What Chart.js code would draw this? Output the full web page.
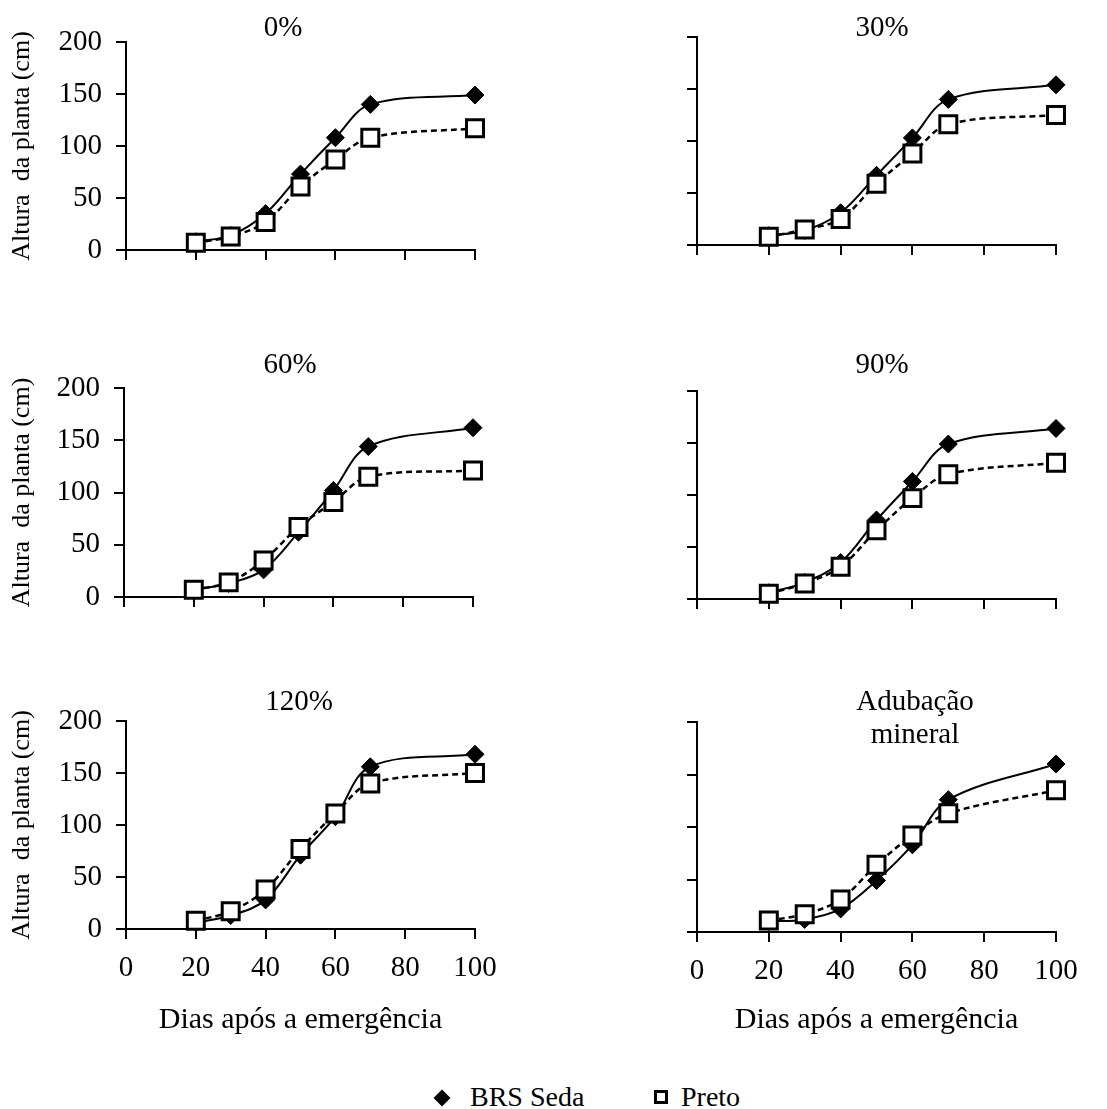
<!DOCTYPE html>
<html>
<head>
<meta charset="utf-8">
<script src="https://cdn.jsdelivr.net/npm/chart.js@4.4.1/dist/chart.umd.min.js"></script>
<style>
  body { margin: 0; background: #fff; width: 1107px; height: 1109px; position: relative; overflow: hidden; font-family: 'Liberation Serif', 'Times New Roman', serif; }
  canvas { position: absolute; }
  .leg { position: absolute; top: 1079px; font-size: 28px; line-height: 36px; color: #000; }
  .mk { position: absolute; box-sizing: border-box; }
</style>
</head>
<body>
<canvas id="g0" width="560" height="300" style="left:0;top:0"></canvas>
<canvas id="g1" width="547" height="300" style="left:560px;top:0"></canvas>
<canvas id="g2" width="560" height="300" style="left:0;top:330px"></canvas>
<canvas id="g3" width="547" height="300" style="left:560px;top:330px"></canvas>
<canvas id="g4" width="560" height="380" style="left:0;top:670px"></canvas>
<canvas id="g5" width="547" height="380" style="left:560px;top:670px"></canvas>

<div class="mk" style="left:436px;top:1092px;width:12px;height:12px;background:#000;transform:rotate(45deg)"></div>
<div class="leg" style="left:470px">BRS Seda</div>
<div class="mk" style="left:654px;top:1090px;width:14px;height:14px;border:3px solid #000;background:#fff"></div>
<div class="leg" style="left:681px">Preto</div>

<script>
// dias apos a emergencia
const dias = [20, 30, 40, 50, 60, 70, 100];
const ticksX = [0, 20, 40, 60, 80, 100];
const ticksY = [0, 50, 100, 150, 200];

const titulos = [['0%'], ['30%'], ['60%'], ['90%'], ['120%'], ['Adubação', 'mineral']];

// altura da planta (cm)
const brs0 = [8, 14, 35, 73, 108, 140, 149];
const preto0 = [7, 13, 27, 61, 87, 108, 117];
const brs30 = [9, 14, 31, 67, 103, 140, 154];
const preto30 = [8, 15, 25, 59, 88, 116, 125];
const brs60 = [7, 13, 26, 62, 102, 144, 162];
const preto60 = [7, 14, 35, 67, 91, 115, 121];
const brs90 = [6, 16, 35, 76, 113, 149, 164];
const preto90 = [5, 15, 31, 66, 97, 120, 131];
const brs120 = [6, 13, 28, 71, 108, 156, 168];
const preto120 = [8, 17, 38, 77, 111, 140, 150];
const brsMin = [10, 12, 22, 49, 83, 126, 160];
const pretoMin = [11, 17, 31, 64, 92, 113, 135];

const seriesBrs = [brs0, brs30, brs60, brs90, brs120, brsMin];
const seriesPreto = [preto0, preto30, preto60, preto90, preto120, pretoMin];

// posicao de cada painel na pagina: canvas e area do grafico
const paineis = [
    { cx: 0,   cy: 0,   w: 560, h: 300, area: [126, 475, 42, 250],  tx: 283, ty: 28 },
    { cx: 560, cy: 0,   w: 547, h: 300, area: [697, 1056, 37, 245], tx: 882, ty: 28 },
    { cx: 0,   cy: 330, w: 560, h: 300, area: [124, 473, 388, 597], tx: 290, ty: 365 },
    { cx: 560, cy: 330, w: 547, h: 300, area: [697, 1056, 391, 599], tx: 882, ty: 365 },
    { cx: 0,   cy: 670, w: 560, h: 380, area: [126, 475, 721, 929], tx: 299, ty: 702 },
    { cx: 560, cy: 670, w: 547, h: 380, area: [697, 1056, 722, 932], tx: 915, ty: 702 }
];

Chart.defaults.font.family = "'Liberation Serif', 'Times New Roman', serif";
Chart.defaults.color = '#000';

const tituloPainel = {
    id: 'tituloPainel',
    afterDraw(chart, args, opts) {
        const ctx = chart.ctx;
        ctx.save();
        ctx.font = "29px 'Liberation Serif'";
        ctx.fillStyle = '#000';
        ctx.textAlign = 'center';
        ctx.textBaseline = 'middle';
        opts.text.forEach((linha, i) => ctx.fillText(linha, opts.x, opts.y + i * 33));
        ctx.restore();
    }
};

paineis.forEach((p, i) => {
    const esquerda = p.cx === 0;
    const embaixo = i >= 4;
    const [aL, aR, aT, aB] = p.area;

    new Chart(document.getElementById('g' + i), {
        type: 'line',
        data: {
            datasets: [{
                label: 'Preto',
                data: dias.map((d, k) => ({ x: d, y: seriesPreto[i][k] })),
                borderColor: '#000',
                borderWidth: 2.5,
                borderDash: [6, 4],
                tension: 0.35,
                pointStyle: 'rect',
                pointRadius: 12,
                pointBackgroundColor: '#fff',
                pointBorderColor: '#000',
                pointBorderWidth: 3,
                clip: false,
                order: 0
            }, {
                label: 'BRS Seda',
                data: dias.map((d, k) => ({ x: d, y: seriesBrs[i][k] })),
                borderColor: '#000',
                borderWidth: 2,
                tension: 0.35,
                pointStyle: 'rectRot',
                pointRadius: 9,
                pointBackgroundColor: '#000',
                pointBorderColor: '#000',
                pointBorderWidth: 1,
                clip: false,
                order: 1
            }]
        },
        options: {
            responsive: false,
            animation: false,
            layout: {
                padding: { left: 0, top: aT - p.cy, right: p.cx + p.w - aR, bottom: 0 }
            },
            plugins: {
                legend: { display: false },
                tooltip: { enabled: false },
                tituloPainel: { text: titulos[i], x: p.tx - p.cx, y: p.ty - p.cy }
            },
            scales: {
                x: {
                    type: 'linear',
                    min: 0,
                    max: 100,
                    afterFit: s => { s.height = p.cy + p.h - aB; },
                    afterBuildTicks: s => { s.ticks = ticksX.map(v => ({ value: v })); },
                    grid: { drawOnChartArea: false, drawTicks: true, tickLength: 10, color: '#000', lineWidth: 2 },
                    border: { color: '#000', width: 2 },
                    ticks: { display: embaixo, padding: 12, font: { size: 29 }, maxRotation: 0 },
                    title: {
                        display: embaixo,
                        text: 'Dias após a emergência',
                        font: { size: 30 },
                        padding: { top: 0, bottom: 12 }
                    }
                },
                y: {
                    min: 0,
                    max: 200,
                    afterFit: s => { s.width = aL - p.cx; },
                    afterBuildTicks: s => { s.ticks = ticksY.map(v => ({ value: v })); },
                    grid: { drawOnChartArea: false, drawTicks: true, tickLength: 10, color: '#000', lineWidth: 2 },
                    border: { color: '#000', width: 2 },
                    ticks: { display: esquerda, padding: 14, font: { size: 29 } },
                    title: {
                        display: esquerda,
                        text: 'Altura  da planta (cm)',
                        font: { size: 26 },
                        padding: { top: 7, bottom: 0 }
                    }
                }
            }
        },
        plugins: [tituloPainel]
    });
});
</script>
</body>
</html>
